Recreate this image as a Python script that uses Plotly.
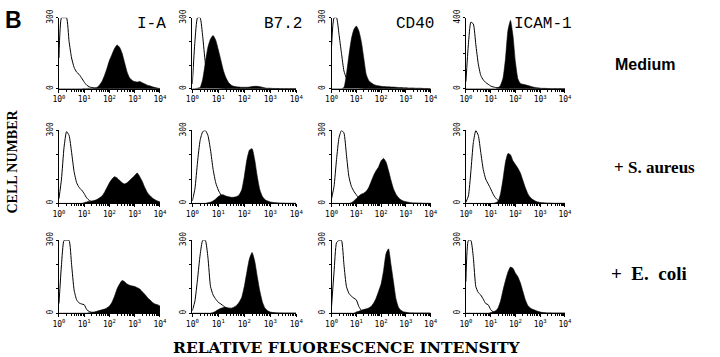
import plotly.graph_objects as go

# ---------------- data ----------------
# fluorescence channel positions (log10 of intensity, 0.1-decade bins)
LOG_CHANNEL = [0.0, 0.1, 0.2, 0.3, 0.4, 0.5, 0.6, 0.7, 0.8, 0.9,
               1.0, 1.1, 1.2, 1.3, 1.4, 1.5, 1.6, 1.7, 1.8, 1.9,
               2.0, 2.1, 2.2, 2.3, 2.4, 2.5, 2.6, 2.7, 2.8, 2.9,
               3.0, 3.1, 3.2, 3.3, 3.4, 3.5, 3.6, 3.7, 3.8, 3.9, 4.0]

MARKERS = ["I-A", "B7.2", "CD40", "ICAM-1"]
CONDITIONS = ["Medium", "+ S. aureus", "+ E. coli"]
Y_MAX = [[300, 300, 300, 400],
         [300, 300, 300, 300],
         [300, 300, 300, 300]]
X_TICK_VALUES = [1, 10, 100, 1000, 10000]
X_TICK_LABELS = ["10<sup>0</sup>", "10<sup>1</sup>", "10<sup>2</sup>", "10<sup>3</sup>", "10<sup>4</sup>"]

# --- Medium ---
IA_MED_CTRL = [130, 300, 300, 300, 200, 130, 90, 70, 60, 45,
               28, 15, 8, 5, 3, 2, 2, 1, 1, 1,
               0, 0, 0, 0, 0, 0, 0, 0, 0, 0,
               0, 0, 0, 0, 0, 0, 0, 0, 0, 0, 0]
IA_MED_STAIN = [0, 0, 0, 0, 0, 0, 0, 0, 0, 0,
                1, 1, 2, 2, 3, 5, 15, 30, 55, 85,
                120, 145, 170, 185, 175, 150, 110, 70, 45, 35,
                30, 28, 30, 25, 20, 15, 12, 8, 5, 3, 0]
B72_MED_CTRL = [20, 200, 300, 300, 220, 110, 50, 25, 12, 8,
                5, 3, 2, 1, 0, 0, 0, 0, 0, 0,
                0, 0, 0, 0, 0, 0, 0, 0, 0, 0,
                0, 0, 0, 0, 0, 0, 0, 0, 0, 0, 0]
B72_MED_STAIN = [0, 0, 2, 5, 40, 110, 175, 210, 225, 205,
                 165, 120, 75, 45, 25, 15, 10, 8, 7, 6,
                 6, 6, 7, 9, 10, 10, 8, 6, 3, 2,
                 2, 1, 1, 1, 0, 0, 0, 0, 0, 0, 0]
CD40_MED_CTRL = [180, 300, 300, 230, 150, 75, 45, 30, 20, 12,
                 8, 5, 3, 2, 1, 0, 0, 0, 0, 0,
                 0, 0, 0, 0, 0, 0, 0, 0, 0, 0,
                 0, 0, 0, 0, 0, 0, 0, 0, 0, 0, 0]
CD40_MED_STAIN = [0, 0, 0, 0, 0, 5, 60, 140, 210, 250,
                  265, 245, 200, 130, 60, 35, 25, 18, 14, 12,
                  10, 9, 8, 8, 7, 7, 6, 5, 5, 4,
                  4, 3, 3, 3, 2, 2, 2, 1, 1, 0, 0]
ICAM_MED_CTRL = [40, 250, 375, 365, 250, 140, 75, 50, 35, 25,
                 15, 10, 7, 5, 3, 2, 1, 1, 0, 0,
                 0, 0, 0, 0, 0, 0, 0, 0, 0, 0,
                 0, 0, 0, 0, 0, 0, 0, 0, 0, 0, 0]
ICAM_MED_STAIN = [0, 0, 0, 0, 0, 0, 0, 0, 0, 0,
                  0, 0, 0, 5, 20, 60, 170, 330, 385, 300,
                  150, 55, 30, 25, 22, 18, 14, 10, 7, 5,
                  3, 2, 2, 1, 0, 0, 0, 0, 0, 0, 0]

# --- + S. aureus ---
IA_SA_CTRL = [20, 100, 230, 295, 280, 210, 130, 85, 65, 55,
              40, 22, 12, 7, 4, 3, 2, 1, 1, 0,
              0, 0, 0, 0, 0, 0, 0, 0, 0, 0,
              0, 0, 0, 0, 0, 0, 0, 0, 0, 0, 0]
IA_SA_STAIN = [0, 0, 0, 0, 0, 0, 0, 0, 0, 0,
               3, 6, 8, 10, 12, 16, 22, 30, 45, 65,
               85, 100, 110, 105, 95, 85, 80, 85, 95, 105,
               115, 125, 110, 90, 65, 45, 32, 22, 15, 10, 6]
B72_SA_CTRL = [10, 60, 170, 260, 295, 300, 280, 220, 140, 85,
               55, 35, 20, 10, 5, 3, 2, 1, 0, 0,
               0, 0, 0, 0, 0, 0, 0, 0, 0, 0,
               0, 0, 0, 0, 0, 0, 0, 0, 0, 0, 0]
B72_SA_STAIN = [0, 0, 0, 0, 0, 0, 3, 5, 10, 18,
                28, 35, 35, 30, 27, 25, 25, 28, 35, 55,
                110, 180, 220, 225, 180, 110, 55, 28, 15, 10,
                6, 4, 3, 2, 1, 1, 0, 0, 0, 0, 0]
CD40_SA_CTRL = [20, 70, 180, 270, 300, 290, 200, 110, 70, 50,
                35, 22, 12, 6, 3, 2, 1, 0, 0, 0,
                0, 0, 0, 0, 0, 0, 0, 0, 0, 0,
                0, 0, 0, 0, 0, 0, 0, 0, 0, 0, 0]
CD40_SA_STAIN = [0, 0, 0, 0, 0, 0, 0, 0, 3, 10,
                 20, 30, 38, 42, 50, 65, 90, 115, 135, 150,
                 175, 185, 170, 135, 95, 60, 38, 24, 15, 10,
                 7, 5, 3, 2, 2, 1, 1, 0, 0, 0, 0]
ICAM_SA_CTRL = [5, 30, 130, 250, 300, 280, 210, 140, 100, 80,
                60, 38, 22, 12, 6, 3, 2, 1, 0, 0,
                0, 0, 0, 0, 0, 0, 0, 0, 0, 0,
                0, 0, 0, 0, 0, 0, 0, 0, 0, 0, 0]
ICAM_SA_STAIN = [0, 0, 0, 0, 0, 0, 0, 0, 0, 0,
                 0, 0, 3, 8, 40, 100, 170, 205, 200, 175,
                 160, 145, 125, 95, 65, 40, 25, 16, 10, 6,
                 4, 3, 2, 1, 1, 0, 0, 0, 0, 0, 0]

# --- + E. coli ---
IA_EC_CTRL = [40, 200, 300, 300, 300, 200, 95, 55, 42, 38,
              35, 15, 7, 4, 3, 2, 1, 0, 0, 0,
              0, 0, 0, 0, 0, 0, 0, 0, 0, 0,
              0, 0, 0, 0, 0, 0, 0, 0, 0, 0, 0]
IA_EC_STAIN = [0, 0, 0, 0, 0, 0, 0, 0, 0, 0,
               0, 0, 2, 3, 5, 8, 11, 14, 17, 22,
               30, 45, 70, 100, 120, 135, 130, 120, 115, 112,
               110, 105, 100, 88, 78, 65, 55, 45, 38, 35, 30]
B72_EC_CTRL = [10, 50, 140, 240, 300, 300, 230, 110, 75, 58,
               45, 38, 30, 22, 14, 8, 4, 2, 1, 0,
               0, 0, 0, 0, 0, 0, 0, 0, 0, 0,
               0, 0, 0, 0, 0, 0, 0, 0, 0, 0, 0]
B72_EC_STAIN = [0, 0, 0, 0, 0, 0, 0, 0, 3, 8,
                15, 20, 24, 24, 22, 21, 25, 32, 45, 65,
                110, 170, 225, 250, 215, 150, 90, 45, 20, 10,
                5, 3, 2, 1, 1, 0, 0, 0, 0, 0, 0]
CD40_EC_CTRL = [30, 170, 290, 300, 300, 200, 110, 82, 70, 62,
                55, 28, 12, 6, 3, 2, 1, 0, 0, 0,
                0, 0, 0, 0, 0, 0, 0, 0, 0, 0,
                0, 0, 0, 0, 0, 0, 0, 0, 0, 0, 0]
CD40_EC_STAIN = [0, 0, 0, 0, 0, 0, 0, 0, 0, 0,
                 5, 8, 12, 15, 18, 22, 28, 42, 62, 90,
                 120, 175, 245, 265, 200, 130, 60, 25, 12, 6,
                 4, 2, 1, 1, 0, 0, 0, 0, 0, 0, 0]
ICAM_EC_CTRL = [130, 300, 300, 230, 110, 85, 75, 58, 40, 35,
                15, 6, 3, 2, 1, 0, 0, 0, 0, 0,
                0, 0, 0, 0, 0, 0, 0, 0, 0, 0,
                0, 0, 0, 0, 0, 0, 0, 0, 0, 0, 0]
ICAM_EC_STAIN = [0, 0, 0, 0, 0, 0, 0, 0, 0, 0,
                 3, 5, 10, 22, 50, 95, 135, 170, 190, 185,
                 165, 150, 125, 90, 55, 32, 22, 16, 12, 8,
                 5, 3, 2, 1, 1, 0, 0, 0, 0, 0, 0]

CONTROLS = [[IA_MED_CTRL, B72_MED_CTRL, CD40_MED_CTRL, ICAM_MED_CTRL],
            [IA_SA_CTRL, B72_SA_CTRL, CD40_SA_CTRL, ICAM_SA_CTRL],
            [IA_EC_CTRL, B72_EC_CTRL, CD40_EC_CTRL, ICAM_EC_CTRL]]
STAINED = [[IA_MED_STAIN, B72_MED_STAIN, CD40_MED_STAIN, ICAM_MED_STAIN],
           [IA_SA_STAIN, B72_SA_STAIN, CD40_SA_STAIN, ICAM_SA_STAIN],
           [IA_EC_STAIN, B72_EC_STAIN, CD40_EC_STAIN, ICAM_EC_STAIN]]

# ---------------- layout ----------------
W, H = 720, 357
COL_PX = [(53, 156), (189, 295), (331, 432), (468, 569)]
ROW_PX = [(9, 82), (125, 200), (238, 313)]


def px_x(v):
    return v / W


def px_y(v):
    return 1 - v / H


fluor = [10 ** v for v in LOG_CHANNEL]
minor_x = [m * 10 ** d for d in range(4) for m in range(2, 10)]

fig = go.Figure()
layout = dict(width=W, height=H, margin=dict(l=0, r=0, t=0, b=0),
              paper_bgcolor="white", plot_bgcolor="white", showlegend=False)

k = 0
for r in range(3):
    for c in range(4):
        k += 1
        xa = "x" if k == 1 else f"x{k}"
        ya = "y" if k == 1 else f"y{k}"
        ymax = Y_MAX[r][c]
        fig.add_trace(go.Scatter(x=fluor, y=STAINED[r][c], mode="lines",
                                 fill="tozeroy", fillcolor="black",
                                 line=dict(color="black", width=0.6, shape="spline", smoothing=0.5),
                                 xaxis=xa, yaxis=ya, hoverinfo="skip"))
        fig.add_trace(go.Scatter(x=fluor, y=CONTROLS[r][c], mode="lines",
                                 line=dict(color="black", width=1, shape="spline", smoothing=0.5),
                                 xaxis=xa, yaxis=ya, hoverinfo="skip"))
        x0, x1 = COL_PX[c]
        y0, y1 = ROW_PX[r]
        layout["xaxis" if k == 1 else f"xaxis{k}"] = dict(
            domain=[px_x(x0), px_x(x1)], anchor=ya, type="log", range=[0, 4],
            tickvals=X_TICK_VALUES, ticktext=X_TICK_LABELS,
            ticks="outside", ticklen=3, tickwidth=1, tickcolor="black",
            minor=dict(tickvals=minor_x, ticks="outside", ticklen=2, tickcolor="black", tickwidth=1),
            showline=True, linecolor="black", linewidth=1,
            showgrid=False, zeroline=False, fixedrange=True,
            tickfont=dict(family="DejaVu Sans Mono", size=8, color="black"))
        minor_y = [v for v in (100, 200, 300) if v < ymax]
        layout["yaxis" if k == 1 else f"yaxis{k}"] = dict(
            domain=[px_y(y1), px_y(y0)], anchor=xa, range=[0, ymax],
            tickvals=[0, ymax], ticktext=["0", str(ymax)], tickangle=-90,
            ticks="outside", ticklen=2, tickwidth=1, tickcolor="black",
            minor=dict(tickvals=minor_y, ticks="outside", ticklen=2, tickcolor="black", tickwidth=1),
            showline=True, linecolor="black", linewidth=1,
            showgrid=False, zeroline=False, fixedrange=True,
            tickfont=dict(family="DejaVu Sans Mono", size=8, color="black"))

annotations = []
TITLE_RIGHT = [164, 303, 438, 578]
for c, name in enumerate(MARKERS):
    annotations.append(dict(text=name, x=px_x(TITLE_RIGHT[c]), y=px_y(15.5),
                            xref="paper", yref="paper", xanchor="right", yanchor="middle",
                            showarrow=False,
                            font=dict(family="Liberation Mono", size=16, color="black")))

ROW_LABEL_Y = [57, 163, 272]
ROW_LABEL_X = [618, 617, 614]
ROW_TEXT = ["Medium", "+ S. aureus", "+\u00a0 E.\u00a0 coli"]
ROW_FONTS = [dict(family="Liberation Sans", size=16, color="black", weight="bold"),
             dict(family="Liberation Serif", size=17, color="black", weight="bold"),
             dict(family="Liberation Serif", size=19, color="black", weight="bold")]
for r, name in enumerate(ROW_TEXT):
    annotations.append(dict(text=name, x=px_x(ROW_LABEL_X[r]), y=px_y(ROW_LABEL_Y[r]),
                            xref="paper", yref="paper", xanchor="left", yanchor="middle",
                            showarrow=False, font=ROW_FONTS[r]))

annotations.append(dict(text="<b>B</b>", x=px_x(-4), y=px_y(11), xref="paper", yref="paper",
                        xanchor="left", yanchor="middle", showarrow=False,
                        font=dict(family="Liberation Sans", size=23, color="black")))
annotations.append(dict(text="<b>CELL NUMBER</b>", x=px_x(6), y=px_y(157), xref="paper", yref="paper",
                        xanchor="center", yanchor="middle", textangle=-90, showarrow=False,
                        font=dict(family="Liberation Serif", size=14, color="black")))
annotations.append(dict(text="<b>RELATIVE FLUORESCENCE INTENSITY</b>", x=px_x(347), y=px_y(348),
                        xref="paper", yref="paper", xanchor="center", yanchor="middle",
                        showarrow=False,
                        font=dict(family="DejaVu Serif", size=15.5, color="black")))

layout["annotations"] = annotations
fig.update_layout(**layout)
fig.write_html("out.html", config={"displayModeBar": False, "staticPlot": True},
               post_script="document.body.style.margin='0px';")
